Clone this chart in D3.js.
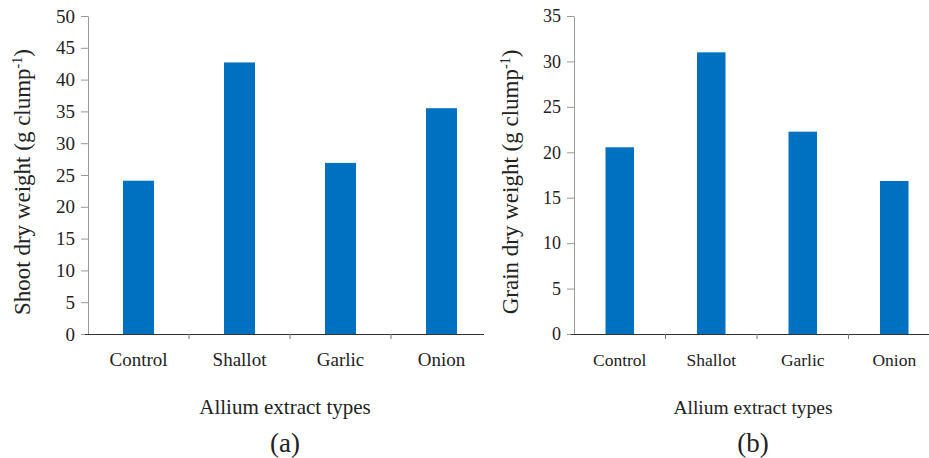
<!DOCTYPE html>
<html>
<head>
<meta charset="utf-8">
<script src="https://cdn.jsdelivr.net/npm/d3@7"></script>
<style>
  body { margin: 0; background: #fff; }
  svg text { font-family: "Times New Roman", "Liberation Serif", "DejaVu Serif", serif !important; fill: #222; }
</style>
</head>
<body>
<div id="chart"></div>
<script>
  const categories = ["Control", "Shallot", "Garlic", "Onion"];
  const shootValues = [24.1, 42.7, 26.9, 35.5];
  const grainValues = [20.55, 31.0, 22.27, 16.84];
  const shootTicks = [0, 5, 10, 15, 20, 25, 30, 35, 40, 45, 50];
  const grainTicks = [0, 5, 10, 15, 20, 25, 30, 35];

  const svg = d3.select("#chart").append("svg")
    .attr("width", 929).attr("height", 458)
    .attr("font-family", "Liberation Serif");

  // one panel of the figure
  let drawPanel = function(opt){
    let g = svg.append("g");
    let x = d3.scaleBand().domain(categories).range([opt.x0, opt.x1]).paddingInner(0).paddingOuter(0);
    let y = d3.scaleLinear().domain([0, opt.max]).range([334, 16]);

    // y axis
    let yAxis = g.append("g")
      .attr("transform", "translate(" + opt.x0 + ",0)")
      .call(d3.axisLeft(y).tickValues(opt.ticks).tickSize(7).tickSizeOuter(0).tickPadding(6));
    yAxis.attr("font-family", null);
    yAxis.select(".domain").attr("stroke", "#999");
    yAxis.selectAll(".tick line").attr("stroke", "#999");
    yAxis.selectAll("text").style("font-size", opt.tickFont + "px").attr("fill", "#333");

    // bars
    g.selectAll(".bar")
      .data(opt.values)
      .enter()
      .append("rect")
      .attr("class", "bar")
      .attr("x", function(d, i){ return x(categories[i]) + (x.bandwidth() - opt.barW) / 2; })
      .attr("width", opt.barW)
      .attr("y", function(d){ return y(d); })
      .attr("height", function(d){ return y(0) - y(d); })
      .attr("fill", "#0070C0");

    // x axis line and ticks between categories
    g.append("line")
      .attr("x1", opt.x0 - 3).attr("x2", opt.lineEnd)
      .attr("y1", y(0) + 0.5).attr("y2", y(0) + 0.5)
      .attr("stroke", "#333");
    g.selectAll(".xtick")
      .data(categories.slice(1))
      .enter()
      .append("line")
      .attr("x1", function(d){ return x(d); })
      .attr("x2", function(d){ return x(d); })
      .attr("y1", y(0)).attr("y2", y(0) + 5)
      .attr("stroke", "#777");
    g.selectAll(".cat")
      .data(categories)
      .enter()
      .append("text")
      .attr("x", function(d){ return x(d) + x.bandwidth() / 2; })
      .attr("y", 366)
      .attr("text-anchor", "middle")
      .style("font-size", opt.catFont + "px")
      .attr("fill", "#333")
      .text(function(d){ return d; });

    // titles
    g.append("text")
      .attr("x", opt.titleX).attr("y", 414)
      .attr("text-anchor", "middle")
      .style("font-size", opt.titleFont + "px")
      .text("Allium extract types");

    let yl = g.append("text")
      .attr("transform", "translate(" + opt.yLabelX + ",182) rotate(-90)")
      .attr("text-anchor", "middle")
      .style("font-size", "23px");
    yl.append("tspan").text(opt.yLabel + " (g clump");
    yl.append("tspan").attr("dy", -8).style("font-size", "14px").text("-1");
    yl.append("tspan").attr("dy", 8).text(")");

    g.append("text")
      .attr("x", opt.titleX).attr("y", 452)
      .attr("text-anchor", "middle")
      .style("font-size", "27px")
      .attr("fill", "#000")
      .text(opt.panel);
  };

  drawPanel({
    x0: 88, x1: 492, lineEnd: 484, max: 50, ticks: shootTicks, values: shootValues,
    barW: 31, tickFont: 19, catFont: 19, titleFont: 21, titleX: 285, yLabelX: 30,
    yLabel: "Shoot dry weight", panel: "(a)"
  });
  drawPanel({
    x0: 574, x1: 940, lineEnd: 929, max: 35, ticks: grainTicks, values: grainValues,
    barW: 28.5, tickFont: 18, catFont: 17.5, titleFont: 19.5, titleX: 753, yLabelX: 518,
    yLabel: "Grain dry weight", panel: "(b)"
  });
</script>
</body>
</html>
